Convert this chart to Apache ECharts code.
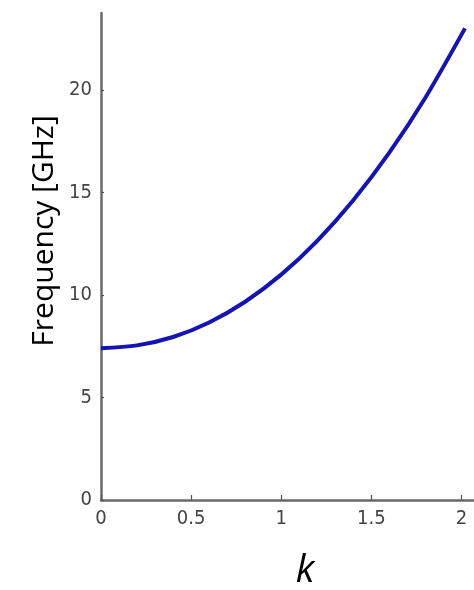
<!DOCTYPE html>
<html>
<head>
<meta charset="utf-8">
<script src="https://cdn.jsdelivr.net/npm/echarts@6/dist/echarts.min.js"></script>
<style>
  html, body { margin: 0; padding: 0; background: #fff; }
  #chart { width: 474px; height: 590px; }
</style>
</head>
<body>
<div id="chart"></div>
<script>
// Dispersion curve: frequency versus wavenumber k
const kValues = [0, 0.2, 0.4, 0.6, 0.8, 1.0, 1.2, 1.4, 1.6, 1.8, 2.02];
const freqValues = [7.4, 7.54, 7.95, 8.66, 9.67, 10.99, 12.64, 14.62, 16.94, 19.62, 23.0];
const xTicks = [0, 0.5, 1, 1.5, 2];
const yTicks = [0, 5, 10, 15, 20];
const yTitle = 'Frequency [GHz]';
const xTitle = 'k';

const points = kValues.map((k, i) => [k, freqValues[i]]);
const tickFont = '"Liberation Sans Narrow", "DejaVu Sans Condensed", sans-serif';

const chart = echarts.init(document.getElementById('chart'), null, { renderer: 'canvas' });
chart.setOption({
  animation: false,
  backgroundColor: '#ffffff',
  grid: { left: 101, right: 0, top: 13, bottom: 90, containLabel: false },
  xAxis: {
    type: 'value',
    min: 0,
    max: 2.07,
    interval: 0.5,
    splitLine: { show: false },
    axisLine: { show: true, onZero: false, lineStyle: { color: '#6a6a6a', width: 2.5 } },
    axisTick: { show: true, inside: true, length: 5, lineStyle: { color: '#555', width: 1.2 } },
    axisLabel: {
      showMaxLabel: false,
      margin: 9,
      color: '#444',
      fontFamily: tickFont,
      fontSize: 20,
      formatter: v => (xTicks.includes(v) ? String(v) : '')
    }
  },
  yAxis: {
    type: 'value',
    min: 0,
    max: 23.75,
    interval: 5,
    splitLine: { show: false },
    axisLine: { show: true, onZero: false, lineStyle: { color: '#6a6a6a', width: 2.5 } },
    axisTick: { show: true, inside: true, length: 3, lineStyle: { color: '#555', width: 1.2 } },
    axisLabel: {
      showMaxLabel: false,
      margin: 9,
      color: '#444',
      fontFamily: tickFont,
      fontSize: 20,
      formatter: v => (yTicks.includes(v) ? String(v) : '')
    }
  },
  series: [{
    type: 'line',
    data: points,
    smooth: 0.3,
    showSymbol: false,
    lineStyle: { color: '#1414b4', width: 4 },
    z: 3
  }],
  graphic: [
    {
      type: 'text',
      x: 44,
      y: 231,
      rotation: Math.PI / 2,
      style: {
        text: yTitle,
        font: '30px "Open Sans", "Noto Sans", sans-serif',
        fill: '#000',
        textAlign: 'center',
        textVerticalAlign: 'middle'
      }
    },
    {
      type: 'text',
      x: 305,
      y: 571,
      style: {
        text: xTitle,
        font: 'italic 38px "Open Sans", "Noto Sans", sans-serif',
        fill: '#000',
        textAlign: 'center',
        textVerticalAlign: 'middle'
      }
    }
  ]
});
</script>
</body>
</html>
